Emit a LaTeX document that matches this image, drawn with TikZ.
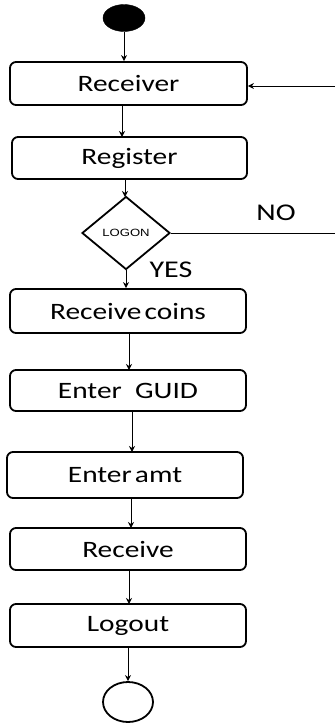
\documentclass[tikz,border=0pt]{standalone}
\usepackage{fontspec}
\setmainfont{Carlito}
\newfontfamily\arialf{Liberation Sans}
\usetikzlibrary{shapes.geometric,arrows.meta}
\newcommand\wide[1]{\scalebox{1.25}[1]{#1}}
\begin{document}
\begin{tikzpicture}[x=1pt,y=-1pt,
  box/.style={draw,line width=1.8pt,rounded corners=6pt,minimum width=236pt,inner sep=0pt,
    font=\fontsize{23.5}{23.5}\selectfont},
  dec/.style={draw,line width=1.8pt,shape=diamond,minimum width=88pt,minimum height=73pt,inner sep=0pt,
    font=\arialf\fontsize{10.5}{10.5}\selectfont},
  lbl/.style={font=\fontsize{24}{24}\selectfont,inner sep=0pt},
  arr/.style={line width=1pt,-{Stealth[length=6pt,width=6pt]}},
  ln/.style={line width=1pt}]
\useasboundingbox (0,0) rectangle (335,723);
\node[ellipse,fill=black,draw,minimum width=42pt,minimum height=27pt,inner sep=0pt] (start) at (124,18) {};
\node[box,minimum height=43pt,minimum width=237pt] (rcv) at (128.5,83.5) {\wide{Receiver}};
\node[box,minimum height=42pt,minimum width=235pt] (reg) at (129.5,158) {\wide{Register}};
\node[dec] (logon) at (126,233) {\wide{LOGON}};
\node[box,minimum height=44pt] (coins) at (128,311) {\wide{Receive\hspace{2.5pt}coins}};
\node[box,minimum height=41pt] (guid) at (128,390.5) {\wide{Enter\ \ GUID}};
\node[box,minimum height=46pt] (amt) at (125,475) {\wide{Enter\hspace{2.5pt}amt}};
\node[box,minimum height=42pt] (recv) at (128,549) {\wide{Receive}};
\node[box,minimum height=43pt] (logout) at (128,625.5) {\wide{Logout}};
\node[ellipse,draw,line width=1.8pt,minimum width=50pt,minimum height=40pt,inner sep=0pt] (stop) at (128,702) {};
\node[lbl] (no) at (276,213) {\wide{NO}};
\node[lbl] (yes) at (171,270) {\wide{YES}};
\coordinate (fbin) at (335,86);
\coordinate (noend) at (335,233);
\draw[arr] (start.south) -- (start.south |- rcv.north);
\draw[arr] (122,105) -- (122,137);
\draw[arr] (125,179) -- (125,197);
\draw[arr] (logon.south) -- (logon.south |- coins.north);
\draw[arr] (129,333) -- (129,370);
\draw[arr] (132,411) -- (132,452);
\draw[arr] (131,498) -- (131,528);
\draw[arr] (129,570) -- (129,604);
\draw[arr] (logout.south) -- (stop.north);
\draw[ln] (logon.east) -- (noend);
\draw[arr] (fbin) -- (fbin -| rcv.east);
\end{tikzpicture}
\end{document}
